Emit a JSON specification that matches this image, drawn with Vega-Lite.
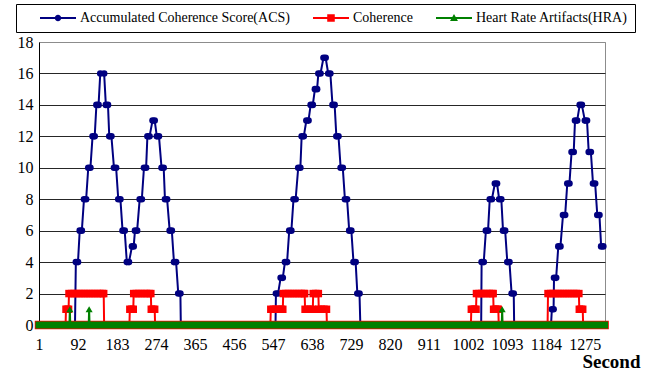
{
  "$schema": "https://vega.github.io/schema/vega-lite/v6.json",
  "width": 566,
  "height": 283,
  "autosize": {"type": "none"},
  "padding": {"left": 39, "top": 42, "right": 40, "bottom": 48},
  "background": "white",
  "config": {
    "font": "Liberation Serif",
    "view": {"stroke": "#8c8c8c", "strokeWidth": 1},
    "axis": {"labelFont": "Liberation Serif", "labelFontSize": 16, "labelColor": "#000", "ticks": false, "domainColor": "#000", "titleFont": "Liberation Serif", "titleColor": "#000"},
    "legend": {
      "orient": "none", "legendX": -23, "legendY": -38, "direction": "horizontal",
      "padding": 7, "strokeColor": "#000", "fillColor": "#fff",
      "labelFont": "Liberation Serif", "labelFontSize": 14, "labelColor": "#000", "labelOffset": 4, "labelLimit": 400,
      "symbolSize": 1296, "symbolStrokeWidth": 0, "symbolOpacity": 1, "clipHeight": 14, "columnPadding": 23,
      "titleOrient": "left", "titlePadding": 17, "titleFontSize": 14, "titleFont": "Liberation Serif"
    }
  },
  "datasets": {
    "acs": [
      {"s":1,"v":0},{"s":85,"v":0},
      {"s":87,"v":4},{"s":92,"v":4},{"s":96,"v":6},{"s":101,"v":6},{"s":106,"v":8},{"s":111,"v":8},
      {"s":116,"v":10},{"s":121,"v":10},{"s":126,"v":12},{"s":131,"v":12},{"s":135,"v":14},{"s":140,"v":14},
      {"s":144,"v":16},{"s":153,"v":16},{"s":157,"v":14},{"s":162,"v":14},{"s":165,"v":12},{"s":170,"v":12},
      {"s":176,"v":10},{"s":181,"v":10},{"s":186,"v":8},{"s":191,"v":8},{"s":196,"v":6},{"s":201,"v":6},
      {"s":206,"v":4},{"s":211,"v":4},{"s":218,"v":5},{"s":222,"v":5},{"s":225,"v":6},{"s":230,"v":6},
      {"s":236,"v":8},{"s":241,"v":8},{"s":246,"v":10},{"s":251,"v":10},{"s":254,"v":12},{"s":259,"v":12},
      {"s":266,"v":13},{"s":271,"v":13},{"s":276,"v":12},{"s":281,"v":12},{"s":287,"v":10},{"s":292,"v":10},
      {"s":295,"v":8},{"s":300,"v":8},{"s":306,"v":6},{"s":311,"v":6},{"s":316,"v":4},{"s":321,"v":4},
      {"s":326,"v":2},{"s":331,"v":2},{"s":332,"v":0},
      {"s":553,"v":0},
      {"s":554,"v":2},{"s":559,"v":2},{"s":565,"v":3},{"s":570,"v":3},{"s":575,"v":4},{"s":580,"v":4},
      {"s":585,"v":6},{"s":590,"v":6},{"s":595,"v":8},{"s":600,"v":8},{"s":606,"v":10},{"s":611,"v":10},
      {"s":614,"v":12},{"s":619,"v":12},{"s":625,"v":13},{"s":630,"v":13},{"s":635,"v":14},{"s":640,"v":14},
      {"s":645,"v":15},{"s":650,"v":15},{"s":653,"v":16},{"s":658,"v":16},{"s":665,"v":17},{"s":670,"v":17},
      {"s":676,"v":16},{"s":681,"v":16},{"s":686,"v":14},{"s":691,"v":14},{"s":695,"v":12},{"s":700,"v":12},
      {"s":705,"v":10},{"s":710,"v":10},{"s":715,"v":8},{"s":720,"v":8},{"s":725,"v":6},{"s":730,"v":6},
      {"s":735,"v":4},{"s":740,"v":4},{"s":744,"v":2},{"s":749,"v":2},{"s":751,"v":0},
      {"s":1033,"v":0},
      {"s":1034,"v":4},{"s":1039,"v":4},{"s":1044,"v":6},{"s":1049,"v":6},{"s":1053,"v":8},{"s":1058,"v":8},
      {"s":1065,"v":9},{"s":1070,"v":9},{"s":1075,"v":8},{"s":1080,"v":8},{"s":1084,"v":6},{"s":1089,"v":6},
      {"s":1094,"v":4},{"s":1099,"v":4},{"s":1104,"v":2},{"s":1109,"v":2},{"s":1110,"v":0},
      {"s":1196,"v":0},
      {"s":1198,"v":1},{"s":1202,"v":1},{"s":1203,"v":3},{"s":1208,"v":3},{"s":1213,"v":5},{"s":1218,"v":5},
      {"s":1224,"v":7},{"s":1229,"v":7},{"s":1234,"v":9},{"s":1239,"v":9},{"s":1244,"v":11},{"s":1249,"v":11},
      {"s":1252,"v":13},{"s":1257,"v":13},{"s":1263,"v":14},{"s":1268,"v":14},{"s":1275,"v":13},{"s":1280,"v":13},
      {"s":1284,"v":11},{"s":1289,"v":11},{"s":1294,"v":9},{"s":1299,"v":9},{"s":1304,"v":7},{"s":1309,"v":7},
      {"s":1313,"v":5},{"s":1318,"v":5}
    ],
    "coh": [
      {"s":1,"v":0},{"s":63,"v":0},
      {"s":64,"v":1},{"s":67,"v":1},{"s":70,"v":1},
      {"s":71,"v":2},{"s":77,"v":2},{"s":83,"v":2},{"s":89,"v":2},{"s":95,"v":2},{"s":101,"v":2},{"s":107,"v":2},
      {"s":113,"v":2},{"s":119,"v":2},{"s":125,"v":2},{"s":131,"v":2},{"s":137,"v":2},{"s":143,"v":2},{"s":149,"v":2},{"s":152,"v":2},
      {"s":153,"v":0},{"s":212,"v":0},
      {"s":213,"v":1},{"s":217,"v":1},{"s":221,"v":1},
      {"s":222,"v":2},{"s":228,"v":2},{"s":234,"v":2},{"s":240,"v":2},{"s":246,"v":2},{"s":252,"v":2},{"s":258,"v":2},{"s":262,"v":2},
      {"s":263,"v":1},{"s":267,"v":1},{"s":271,"v":1},
      {"s":272,"v":0},{"s":541,"v":0},
      {"s":542,"v":1},{"s":548,"v":1},{"s":554,"v":1},{"s":560,"v":1},{"s":566,"v":1},{"s":570,"v":1},
      {"s":571,"v":2},{"s":577,"v":2},{"s":583,"v":2},{"s":589,"v":2},{"s":595,"v":2},{"s":601,"v":2},{"s":607,"v":2},{"s":613,"v":2},{"s":619,"v":2},{"s":621,"v":2},
      {"s":622,"v":1},{"s":628,"v":1},{"s":634,"v":1},{"s":640,"v":1},
      {"s":641,"v":2},{"s":647,"v":2},{"s":653,"v":2},
      {"s":654,"v":1},{"s":660,"v":1},{"s":666,"v":1},{"s":672,"v":1},
      {"s":673,"v":0},{"s":1009,"v":0},
      {"s":1010,"v":1},{"s":1014,"v":1},{"s":1018,"v":1},{"s":1021,"v":1},
      {"s":1022,"v":2},{"s":1028,"v":2},{"s":1034,"v":2},{"s":1040,"v":2},{"s":1046,"v":2},{"s":1052,"v":2},{"s":1058,"v":2},{"s":1061,"v":2},
      {"s":1062,"v":1},{"s":1066,"v":1},{"s":1070,"v":1},{"s":1073,"v":1},
      {"s":1074,"v":0},{"s":1188,"v":0},
      {"s":1189,"v":2},{"s":1195,"v":2},{"s":1201,"v":2},{"s":1207,"v":2},{"s":1213,"v":2},{"s":1219,"v":2},{"s":1225,"v":2},
      {"s":1231,"v":2},{"s":1237,"v":2},{"s":1243,"v":2},{"s":1249,"v":2},{"s":1255,"v":2},{"s":1261,"v":2},
      {"s":1262,"v":1},{"s":1266,"v":1},{"s":1270,"v":1},
      {"s":1271,"v":0},{"s":1321,"v":0}
    ],
    "hra": [
      {"s":1,"v":0},{"s":72,"v":0},{"s":73,"v":1},{"s":74,"v":0},
      {"s":117,"v":0},{"s":118,"v":1},{"s":119,"v":0},
      {"s":1081,"v":0},{"s":1082,"v":1},{"s":1083,"v":0},{"s":1321,"v":0}
    ]
  },
  "encoding": {
    "x": {
      "field": "s", "type": "quantitative",
      "scale": {"domain": [1, 1322], "nice": false, "zero": false},
      "axis": {
        "values": [1,92,183,274,365,456,547,638,729,820,911,1002,1093,1184,1275],
        "format": "d", "grid": false, "labelPadding": 11, "labelFlush": false, "labelOverlap": false,
        "title": "Second", "titleFontSize": 19, "titleFontWeight": "bold",
        "titleX": 601, "titleY": 42, "titleAlign": "right", "titleBaseline": "alphabetic"
      }
    },
    "y": {
      "field": "v", "type": "quantitative",
      "scale": {"domain": [0, 18], "nice": false},
      "axis": {
        "values": [0,2,4,6,8,10,12,14,16,18], "title": null, "grid": true,
        "gridColor": {"condition": {"test": "datum.value == 18", "value": "#8c8c8c"}, "value": "#262626"},
        "labelPadding": 6, "labelFlush": false
      }
    }
  },
  "layer": [
    {"data": {"name": "acs"}, "mark": {"type": "line", "color": "#000080", "strokeWidth": 2}},
    {"data": {"name": "acs"}, "transform": [{"filter": "datum.v > 0"}], "mark": {"type": "point", "shape": "circle", "filled": true, "size": 44, "color": "#000080", "opacity": 1}},
    {"data": {"name": "coh"}, "transform": [{"filter": "datum.v == 0"}], "mark": {"type": "line", "color": "#FF0000", "strokeWidth": 8.5, "strokeCap": "square"}},
    {"data": {"name": "coh"}, "mark": {"type": "line", "color": "#FF0000", "strokeWidth": 2}},
    {"data": {"name": "coh"}, "transform": [{"filter": "datum.v > 0"}], "mark": {"type": "point", "shape": "square", "filled": true, "size": 56, "color": "#FF0000", "opacity": 1}},
    {"data": {"name": "hra"}, "transform": [{"filter": "datum.v == 0"}], "mark": {"type": "line", "color": "#008000", "strokeWidth": 7, "strokeCap": "square"}},
    {"data": {"name": "hra"}, "mark": {"type": "line", "color": "#008000", "strokeWidth": 2}},
    {"data": {"name": "hra"}, "transform": [{"filter": "datum.v > 0"}], "mark": {"type": "point", "shape": "triangle-up", "filled": true, "size": 50, "color": "#008000", "opacity": 1}},
    {
      "data": {"values": [{"k": "Accumulated Coherence Score(ACS)"}, {"k": "Coherence"}, {"k": "Heart Rate Artifacts(HRA)"}]},
      "transform": [{"filter": "false"}],
      "mark": {"type": "point", "filled": true},
      "encoding": {
        "x": {"datum": 1, "type": "quantitative"},
        "y": {"datum": 0, "type": "quantitative"},
        "color": {
          "field": "k", "type": "nominal", "title": " ",
          "scale": {"domain": ["Accumulated Coherence Score(ACS)", "Coherence", "Heart Rate Artifacts(HRA)"], "range": ["#000080", "#FF0000", "#008000"]}
        },
        "shape": {
          "field": "k", "type": "nominal", "title": " ",
          "scale": {"domain": ["Accumulated Coherence Score(ACS)", "Coherence", "Heart Rate Artifacts(HRA)"],
            "range": [
              "M-1,-0.06H1V0.06H-1Z M-0.18,0A0.18,0.18 0 1,1 0.18,0A0.18,0.18 0 1,1 -0.18,0Z",
              "M-1,-0.06H1V0.06H-1Z M-0.21,-0.21H0.21V0.21H-0.21Z",
              "M-1,-0.06H1V0.06H-1Z M0,-0.22L0.22,0.17H-0.22Z"
            ]}
        }
      }
    }
  ]
}
